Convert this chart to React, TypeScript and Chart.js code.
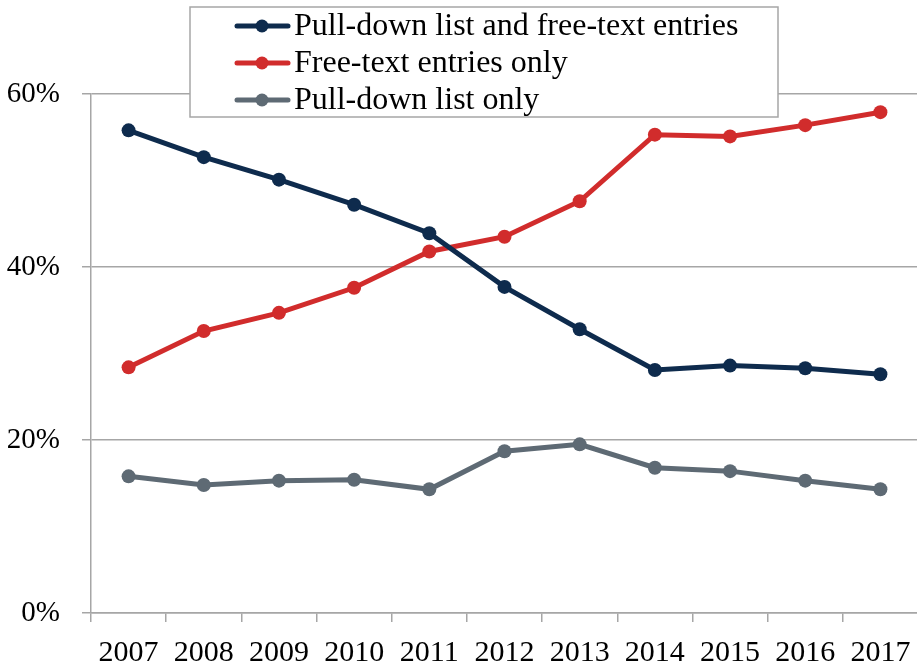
import React, { useEffect, useRef } from "react";
import { Chart, registerables } from "chart.js";

Chart.register(...registerables);

const years = ["2007", "2008", "2009", "2010", "2011", "2012", "2013", "2014", "2015", "2016", "2017"];
const pullDownAndFree = [55.8, 52.7, 50.1, 47.2, 43.9, 37.7, 32.8, 28.1, 28.6, 28.3, 27.6];
const freeTextOnly = [28.4, 32.6, 34.7, 37.6, 41.8, 43.5, 47.6, 55.3, 55.1, 56.4, 57.9];
const pullDownOnly = [15.8, 14.8, 15.3, 15.4, 14.3, 18.7, 19.5, 16.8, 16.4, 15.3, 14.3];
const seriesNames = ["Pull-down list and free-text entries", "Free-text entries only", "Pull-down list only"];
const seriesColors = ["#0e2b4d", "#d12c2c", "#5e6a74"];

const FONT = "'Liberation Serif', 'Times New Roman', serif";

const legendBoxPlugin = {
  id: "legendBox",
  afterDraw(chart: any) {
    const ctx = chart.ctx;
    ctx.save();
    const x0 = 190, y0 = 7, w = 588, h = 110;
    ctx.fillStyle = "#ffffff";
    ctx.fillRect(x0, y0, w, h);
    ctx.strokeStyle = "#a6a6a6";
    ctx.lineWidth = 1.5;
    ctx.strokeRect(x0, y0, w, h);
    const rows = [26, 63, 100];
    chart.data.datasets.forEach((ds: any, i: number) => {
      const cy = rows[i];
      ctx.strokeStyle = ds.borderColor;
      ctx.lineWidth = 5;
      ctx.lineCap = "round";
      ctx.beginPath();
      ctx.moveTo(237, cy);
      ctx.lineTo(288, cy);
      ctx.stroke();
      ctx.fillStyle = ds.borderColor;
      ctx.beginPath();
      ctx.arc(262, cy, 6.5, 0, Math.PI * 2);
      ctx.fill();
      ctx.fillStyle = "#000000";
      ctx.font = `32px ${FONT}`;
      ctx.textBaseline = "middle";
      ctx.textAlign = "left";
      ctx.fillText(ds.label, 294, cy + 1);
    });
    ctx.restore();
  },
};

export default function App() {
  const ref = useRef<HTMLCanvasElement>(null);
  useEffect(() => {
    if (!ref.current) return;
    const datasets = [pullDownAndFree, freeTextOnly, pullDownOnly].map((d, i) => ({
      label: seriesNames[i],
      data: d,
      borderColor: seriesColors[i],
      backgroundColor: seriesColors[i],
      pointBackgroundColor: seriesColors[i],
      pointBorderColor: seriesColors[i],
      borderWidth: 5,
      pointRadius: 7,
      pointBorderWidth: 0,
      tension: 0,
    }));
    const chart = new Chart(ref.current, {
      type: "line",
      data: { labels: years, datasets },
      plugins: [legendBoxPlugin],
      options: {
        animation: false,
        responsive: false,
        layout: { padding: { top: 94, right: 0, left: 0, bottom: 0 } },
        plugins: { legend: { display: false }, tooltip: { enabled: false } },
        scales: {
          x: {
            offset: true,
            grid: { offset: true, drawOnChartArea: false, drawTicks: true, tickLength: 9, color: "#a6a6a6", lineWidth: 1.5 },
            border: { color: "#a6a6a6", width: 1.5 },
            ticks: { color: "#000", font: { family: FONT, size: 30 }, padding: 13, maxRotation: 0, autoSkip: false },
            afterFit: (s: any) => { s.height = 58; s.paddingRight = 0; s.paddingLeft = 0; },
          },
          y: {
            min: 0,
            max: 60,
            grid: { color: "#a6a6a6", lineWidth: 1.5, tickLength: 9 },
            border: { color: "#a6a6a6", width: 1.5 },
            ticks: { stepSize: 20, color: "#000", font: { family: FONT, size: 29 }, padding: 22, callback: (v: any) => v + "%" },
            afterFit: (s: any) => { s.width = 91; s.paddingTop = 0; s.paddingBottom = 0; },
          },
        },
      },
    });
    return () => chart.destroy();
  }, []);
  return (
    <div style={{ position: "fixed", left: 0, top: 0, width: 917, height: 671, background: "#fff", overflow: "hidden" }}>
      <canvas ref={ref} width={925} height={671} style={{ width: 925, height: 671, display: "block" }} />
    </div>
  );
}
